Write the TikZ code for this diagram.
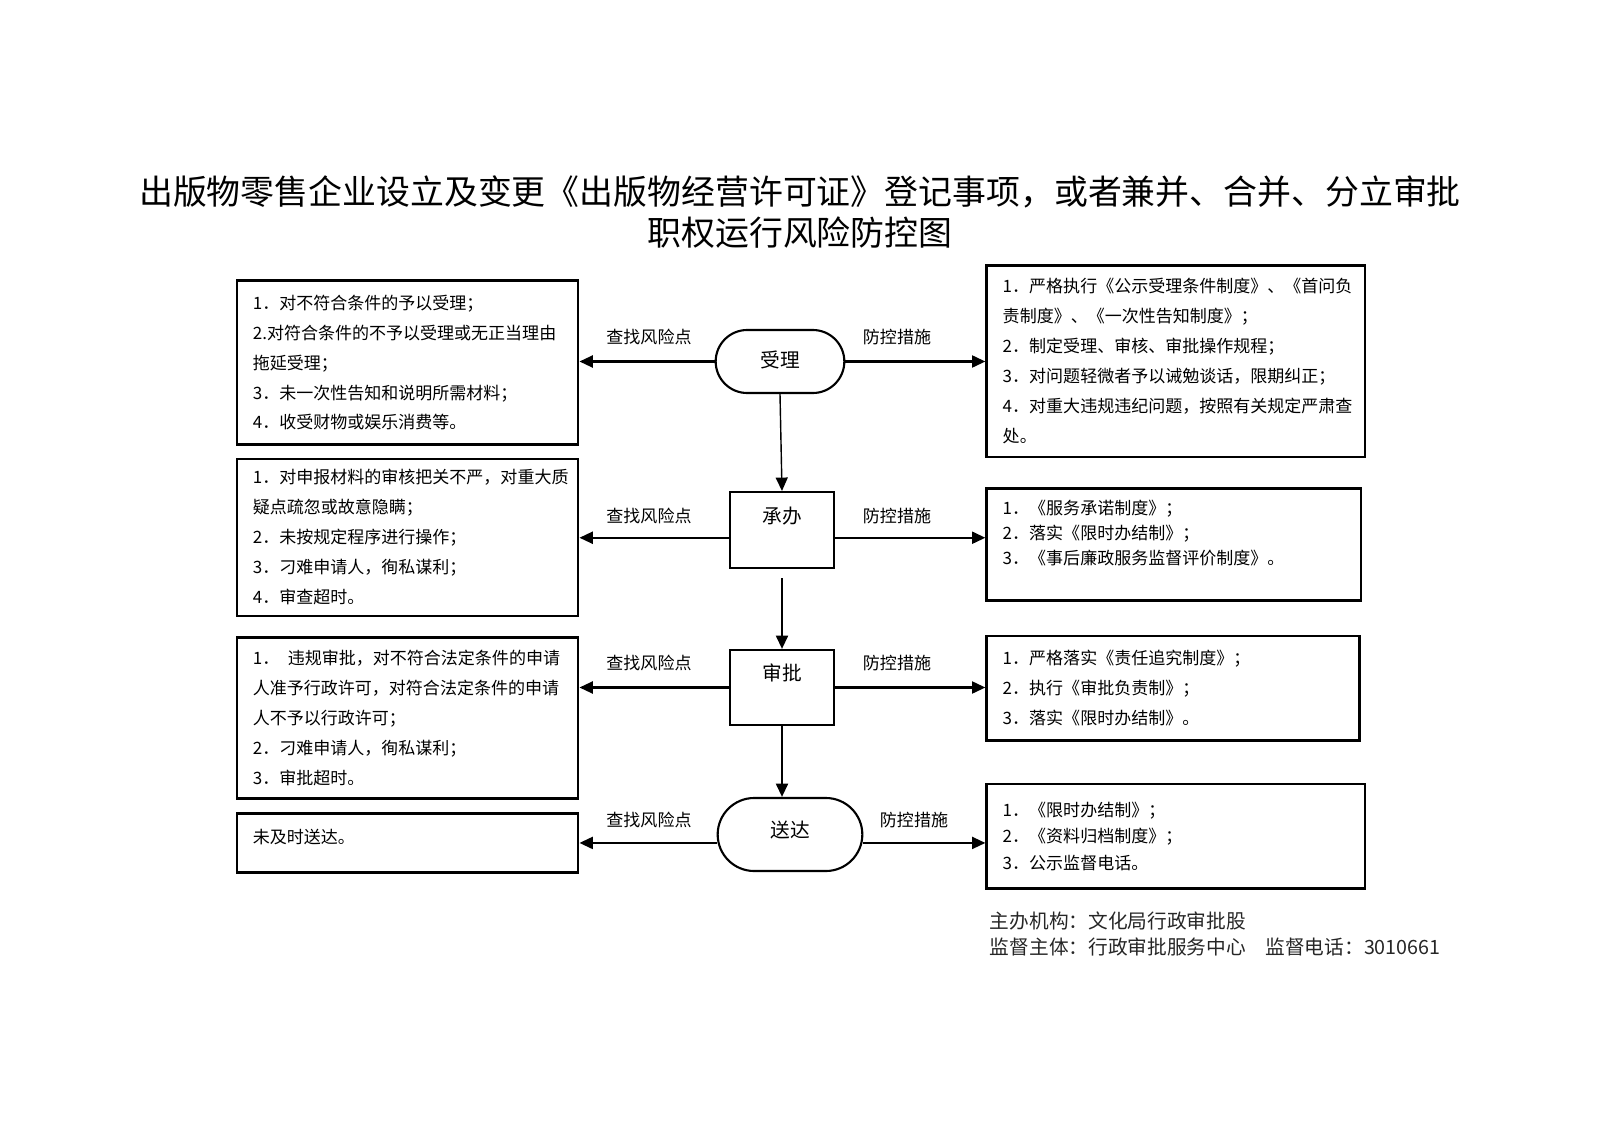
\documentclass[tikz,border=0pt]{standalone}
\usepackage{fontspec}
\setmainfont{Noto Sans CJK SC}
\usetikzlibrary{arrows.meta,shapes.misc}
\tikzset{
  riskbox/.style={draw, line width=1.9pt, anchor=north west, align=left, inner xsep=0.4cm, inner ysep=0pt, font=\fontsize{12.1pt}{21.3pt}\selectfont},
  stagebox/.style={draw, line width=1.5pt, font=\fontsize{14pt}{16pt}\selectfont, text height=12pt},
  stageend/.style={stagebox, rounded rectangle},
  sidelabel/.style={font=\fontsize{12.1pt}{14pt}\selectfont},
  sidearrow/.style={line width=1.6pt, -{Triangle[length=9.5pt,width=8.5pt]}},
}
\begin{document}
\begin{tikzpicture}[x=0.025cm,y=-0.025cm]
                \useasboundingbox (0,0) rectangle (1600,1131);
                \node[font=\fontsize{24.1pt}{29pt}\selectfont, align=center] (title) at (800,212) {出版物零售企业设立及变更《出版物经营许可证》登记事项，或者兼并、合并、分立审批\\职权运行风险防控图};

                % stages
                \node[stageend, minimum width=3.45cm, minimum height=1.575cm, text depth=3.4pt] (shouli) at (780,361.5) {受理};
                \node[stagebox, minimum width=2.6cm, minimum height=1.9cm, text depth=21.4pt] (chengban) at (782,530) {承办};
                \node[stagebox, minimum width=2.6cm, minimum height=1.875cm, text depth=22pt] (shenpi) at (782,687.5) {审批};
                \node[stageend, minimum width=3.85cm, minimum height=1.825cm, text depth=7.8pt] (songda) at (790,834.5) {送达};

                % risks
                \node[riskbox, text width=7.73cm, minimum height=4.1cm] (risk1) at (235.5,279.2) {1．对不符合条件的予以受理；\\2.对符合条件的不予以受理或无正当理由\\拖延受理；\\3．未一次性告知和说明所需材料；\\4．收受财物或娱乐消费等。};
                \node[riskbox, text width=7.73cm, minimum height=3.925cm] (risk2) at (235.5,457.5) {1．对申报材料的审核把关不严，对重大质\\疑点疏忽或故意隐瞒；\\2．未按规定程序进行操作；\\3．刁难申请人，徇私谋利；\\4．审查超时。};
                \node[riskbox, text width=7.73cm, minimum height=4.025cm] (risk3) at (235.5,635.9) {1．\kern0.5em违规审批，对不符合法定条件的申请\\人准予行政许可，对符合法定条件的申请\\人不予以行政许可；\\2．刁难申请人，徇私谋利；\\3．审批超时。};
                \node[riskbox, text width=7.73cm, minimum height=1.475cm] (risk4) at (235.5,812.1) {未及时送达。\\[-12pt]~};

                % controls
                \node[riskbox, text width=8.65cm, minimum height=4.79cm] (ctrl1) at (985.4,263.9) {1．严格执行《公示受理条件制度》、《首问负\\责制度》、《一次性告知制度》；\\2．制定受理、审核、审批操作规程；\\3．对问题轻微者予以诫勉谈话，限期纠正；\\4．对重大违规违纪问题，按照有关规定严肃查\\处。};
                \node[riskbox, text width=8.55cm, minimum height=2.8cm, font=\fontsize{12.1pt}{17.6pt}\selectfont] (ctrl2) at (985.4,487.1) {1．《服务承诺制度》；\\2．落实《限时办结制》；\\3．《事后廉政服务监督评价制度》。\\~};
                \node[riskbox, text width=8.52cm, minimum height=2.6cm] (ctrl3) at (985.4,634.8) {1．严格落实《责任追究制度》；\\2．执行《审批负责制》；\\3．落实《限时办结制》。};
                \node[riskbox, text width=8.65cm, minimum height=2.62cm, font=\fontsize{12.1pt}{18.8pt}\selectfont] (ctrl4) at (985.4,782.6) {1．《限时办结制》；\\2．《资料归档制度》；\\3．公示监督电话。};

                % side labels
                \node[sidelabel] (find1) at (649,337) {查找风险点}; \node[sidelabel] (prev1) at (897,337) {防控措施};
                \node[sidelabel] (find2) at (649,516) {查找风险点}; \node[sidelabel] (prev2) at (897,516) {防控措施};
                \node[sidelabel] (find3) at (649,663) {查找风险点}; \node[sidelabel] (prev3) at (897,663) {防控措施};
                \node[sidelabel] (find4) at (649,820) {查找风险点}; \node[sidelabel] (prev4) at (914,820) {防控措施};

                \coordinate (cbmid) at ([yshift=-5.5pt]chengban.west); \coordinate (cbmid2) at ([yshift=-5.5pt]chengban.east);
                \coordinate (sdmid) at ([yshift=-6pt]songda.west); \coordinate (sdmid2) at ([yshift=-6pt]songda.east);

                \draw[sidearrow] (shouli.west) to (shouli.west -| risk1.east); \draw[sidearrow] (shouli.east) to (shouli.east -| ctrl1.west);
                \draw[sidearrow] (cbmid) to (cbmid -| risk2.east); \draw[sidearrow] (cbmid2) to (cbmid2 -| ctrl2.west);
                \draw[sidearrow] (shenpi.west) to (shenpi.west -| risk3.east); \draw[sidearrow] (shenpi.east) to (shenpi.east -| ctrl3.west);
                \draw[sidearrow] (sdmid) to (sdmid -| risk4.east); \draw[sidearrow] (sdmid2) to (sdmid2 -| ctrl4.west);
                \draw[sidearrow, line width=1pt] (shouli.south) to (chengban.north);
                \draw[sidearrow, shorten <=6.4pt] (chengban.south) to (shenpi.north);
                \draw[sidearrow] (shenpi.south) to (shenpi.south |- songda.north);

                % footer
                \node[anchor=west, font=\fontsize{14pt}{16pt}\selectfont, text=black!85] (host) at (985,921) {主办机构：文化局行政审批股};
                \node[anchor=west, font=\fontsize{14pt}{16pt}\selectfont, text=black!85] (watch) at (985,947) {监督主体：行政审批服务中心　监督电话：3010661};
\end{tikzpicture}
\end{document}
